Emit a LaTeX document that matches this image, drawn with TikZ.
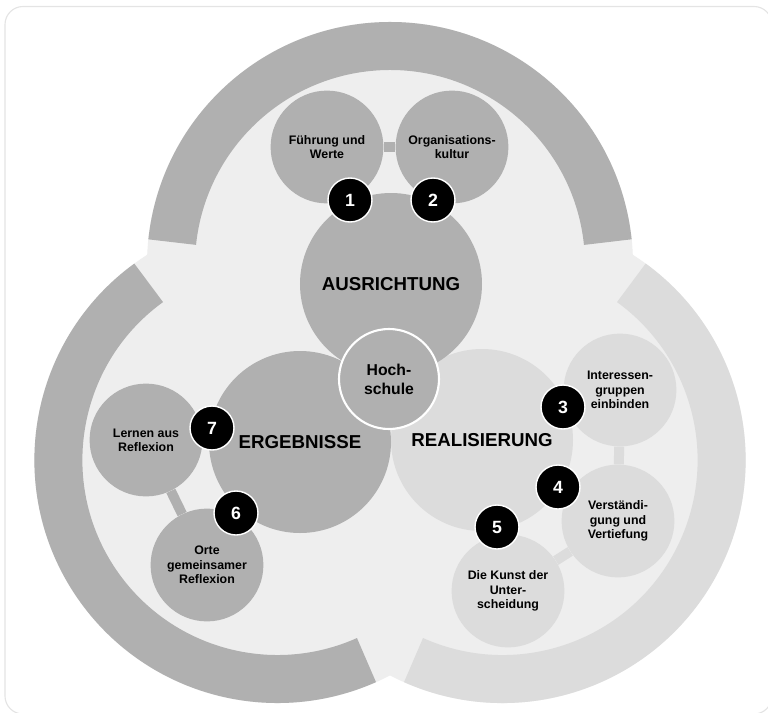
\documentclass[tikz,border=0pt]{standalone}
\usepackage{fontspec}
\setmainfont{Liberation Sans}
\usepackage{xcolor}
\usepackage{tikz}
\usetikzlibrary{positioning}
\definecolor{darkgrey}{HTML}{B0B0B0}
\definecolor{lightgrey}{HTML}{DCDCDC}
\definecolor{lobegrey}{HTML}{EEEEEE}
\definecolor{framegrey}{HTML}{E4E4E4}
\tikzset{
	lobe/.style={fill=lobegrey},
	ringdark/.style={draw=darkgrey, line width=1.2cm},
	ringlight/.style={draw=lightgrey, line width=1.2cm},
	satdark/.style={circle, fill=darkgrey, minimum size=2.82cm, inner sep=0, align=center, font=\bfseries\fontsize{8.8}{10.2}\selectfont},
	satlight/.style={satdark, fill=lightgrey},
	maindark/.style={circle, fill=darkgrey, minimum size=4.55cm, inner sep=0, font=\bfseries\fontsize{13.3}{16}\selectfont},
	mainlight/.style={maindark, fill=lightgrey},
	core/.style={circle, draw=white, line width=1.5pt, fill=darkgrey, minimum size=2.5cm, inner sep=0, align=center, font=\bfseries\fontsize{11.2}{13.5}\selectfont},
	badge/.style={circle, draw=white, line width=1pt, fill=black, text=white, minimum size=1.1cm, inner sep=0, font=\bfseries\fontsize{12.6}{14}\selectfont},
	bardark/.style={draw=darkgrey, line width=0.25cm},
	barlight/.style={draw=lightgrey, line width=0.25cm}
}

\begin{document}
\begin{tikzpicture}
	\useasboundingbox (-9.75,-7.925) rectangle (9.45,9.875);
	\draw[framegrey, line width=0.8pt, rounded corners=0.45cm, fill=white] (-9.625,-7.975) rectangle (9.55,9.7125);
	
	% three lobes and their rings
	\coordinate (ltop) at (0,3.25);
	\coordinate (lleft) at (-2.815,-1.625);
	\coordinate (lright) at (2.815,-1.625);
	\fill[lobe] (ltop) circle (6.075) (lleft) circle (6.075) (lright) circle (6.075);
	\draw[ringdark] (ltop) ++(6:5.475) arc[start angle=6, end angle=174, radius=5.475];
	\draw[ringdark] (lleft) ++(126:5.475) arc[start angle=126, end angle=294, radius=5.475];
	\draw[ringlight] (lright) ++(246:5.475) arc[start angle=246, end angle=414, radius=5.475];
	
	% satellites
	\node [satdark] (fuehrung) at (-1.575,6.2) {Führung und\\Werte};
	\node [satdark] (kultur) at (1.55,6.2) {Organisations-\\kultur};
	\node [satdark] (lernen) at (-6.1,-1.125) {Lernen aus\\Reflexion};
	\node [satdark] (orte) at (-4.575,-4.25) {Orte\\gemeinsamer\\Reflexion};
	\node [satlight] (interessen) at (5.75,0.125) {Interessen-\\gruppen\\einbinden};
	\node [satlight] (verstaendigung) at (5.7,-3.15) {Verständi-\\gung und\\Vertiefung};
	\node [satlight] (kunst) at (2.95,-4.9) {Die Kunst der\\Unter-\\scheidung};
	\draw[bardark] (fuehrung) -- (kultur);
	\draw[bardark] (lernen) -- (orte);
	\draw[barlight] (interessen) -- (verstaendigung);
	\draw[barlight] (verstaendigung) -- (kunst);
	
	% main circles
	\node [mainlight] (realisierung) at (2.3,-1.125) {REALISIERUNG};
	\node [maindark] (ergebnisse) at (-2.25,-1.175) {ERGEBNISSE};
	\node [maindark] (ausrichtung) at (0.025,2.775) {AUSRICHTUNG};
	\node [core] (hochschule) at (-0.025,0.4) {Hoch-\\schule};
	
	% numbers
	\node [badge] (b1) at (-1.0,4.875) {1};
	\node [badge] (b2) at (1.075,4.875) {2};
	\node [badge] (b3) at (4.325,-0.3) {3};
	\node [badge] (b4) at (4.2,-2.3) {4};
	\node [badge] (b5) at (2.675,-3.3) {5};
	\node [badge] (b6) at (-3.85,-2.95) {6};
	\node [badge] (b7) at (-4.45,-0.825) {7};
\end{tikzpicture}
\end{document}
